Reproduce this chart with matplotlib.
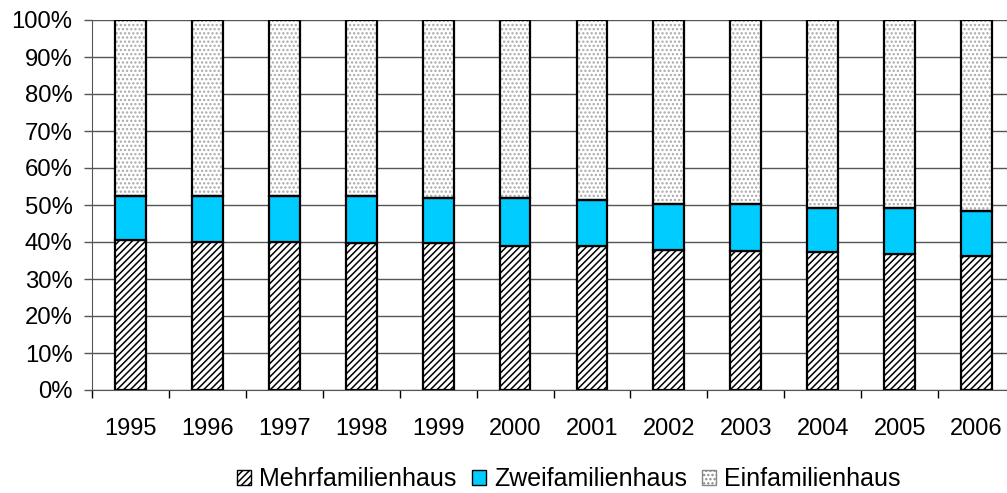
import matplotlib
matplotlib.use('Agg')
import matplotlib.pyplot as plt
from matplotlib.patches import Patch
import numpy as np

plt.rcParams['font.family'] = ['Liberation Sans', 'DejaVu Sans']

years = ['1995', '1996', '1997', '1998', '1999', '2000',
         '2001', '2002', '2003', '2004', '2005', '2006']
mehr = [40.5, 40.0, 40.0, 39.6, 39.6, 39.0, 39.0, 37.8, 37.7, 37.3, 36.8, 36.3]  # % Mehrfamilienhaus
zwei_top = [52.4, 52.4, 52.4, 52.4, 51.8, 51.8, 51.4, 50.2, 50.2, 49.1, 49.1, 48.5]  # cumulative top
zwei = [t - m for t, m in zip(zwei_top, mehr)]
ein = [100 - t for t in zwei_top]

W, H = 1007, 493
fig = plt.figure(figsize=(W / 100, H / 100), dpi=100)
left, right, top, bottom = 92, 1015, 20, 390
ax = fig.add_axes([left / W, 1 - bottom / H, (right - left) / W, (bottom - top) / H])

x = np.arange(len(years))
bw = 0.40
plt.rcParams['hatch.linewidth'] = 1.1

# Mehrfamilienhaus: black diagonal hatch
ax.bar(x, mehr, bw, color='white', edgecolor='black', hatch='/////', linewidth=0, zorder=3)
ax.bar(x, mehr, bw, color='none', edgecolor='black', linewidth=1.6, zorder=4)
# Zweifamilienhaus: cyan
ax.bar(x, zwei, bw, bottom=mehr, color='#00CCFF', edgecolor='black', linewidth=1.6, zorder=4)
# Einfamilienhaus: light grey dots
ax.bar(x, ein, bw, bottom=zwei_top, color='white', edgecolor='#a8a8a8', hatch='....', linewidth=0, zorder=3)
ax.bar(x, ein, bw, bottom=zwei_top, color='none', edgecolor='black', linewidth=1.6, zorder=4)

ax.set_xlim(-0.5, len(years) - 0.5)
ax.set_ylim(0, 100)
ax.set_yticks(np.arange(0, 101, 10))
ax.set_yticklabels([f'{v}%' for v in range(0, 101, 10)], fontsize=17.2)
ax.yaxis.grid(True, color='#555555', linewidth=1.0, zorder=0)
ax.set_axisbelow(True)

ax.set_xticks(x)
ax.set_xticklabels(years, fontsize=17)
ax.set_xticks(np.arange(-0.5, len(years), 1.0), minor=True)
ax.tick_params(axis='x', which='major', length=0, pad=20)
ax.tick_params(axis='x', which='minor', length=6, width=1, color='black', direction='out')
ax.tick_params(axis='y', length=6, width=1, color='#555555', pad=8)

for s in ['top', 'right']:
    ax.spines[s].set_visible(False)
ax.spines['left'].set_color('#555555')
ax.spines['bottom'].set_color('#555555')

handles = [
    Patch(facecolor='white', edgecolor='black', hatch='/////', label='Mehrfamilienhaus'),
    Patch(facecolor='#00CCFF', edgecolor='black', label='Zweifamilienhaus'),
    Patch(facecolor='white', edgecolor='#888888', hatch='....', label='Einfamilienhaus'),
]
fig.legend(handles=handles, loc='center', bbox_to_anchor=(569 / W, 1 - 479 / H),
           ncol=3, frameon=False, fontsize=18, handlelength=0.55, handleheight=0.55,
           handletextpad=0.32, columnspacing=0.62, borderpad=0)

fig.savefig('out.png', dpi=100)
